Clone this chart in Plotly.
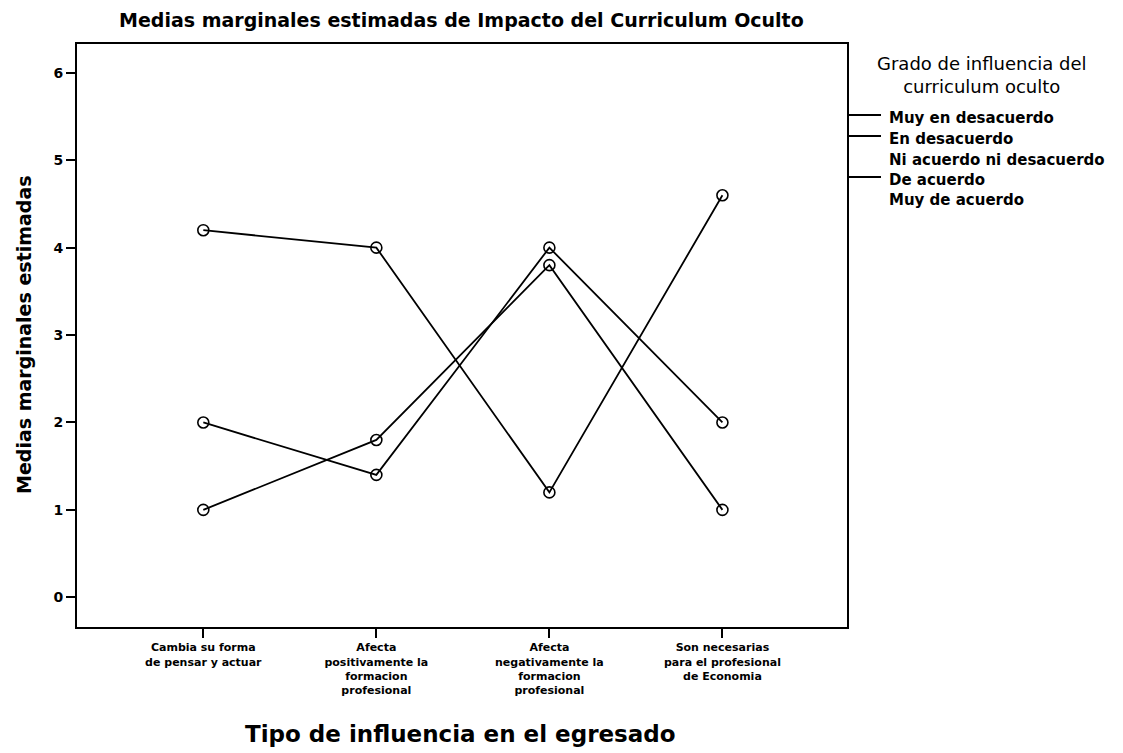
import plotly.graph_objects as go

# Data
categorias = [
    "Cambia su forma<br>de pensar y actuar",
    "Afecta<br>positivamente la<br>formacion<br>profesional",
    "Afecta<br>negativamente la<br>formacion<br>profesional",
    "Son necesarias<br>para el profesional<br>de Economia",
]
serie_a = [4.2, 4.0, 1.2, 4.6]
serie_b = [2.0, 1.4, 4.0, 2.0]
serie_c = [1.0, 1.8, 3.8, 1.0]
y_ticks = [0, 1, 2, 3, 4, 5, 6]

leyenda_titulo = "Grado de influencia del<br>curriculum oculto"
leyenda_items = [
    "Muy en desacuerdo",
    "En desacuerdo",
    "Ni acuerdo ni desacuerdo",
    "De acuerdo",
    "Muy de acuerdo",
]
leyenda_con_linea = [True, True, False, True, False]

FONT = "DejaVu Sans"
OFF = 8  # page body margin
W, H = 1123 - OFF, 753 - OFF
# plot frame in screen pixels
L, R, T, B = 77, 847, 44, 627


def px_x(x):
    return (x - L) / (R - L)


def px_y(y):
    return (B - y) / (B - T)


fig = go.Figure()
for nombre, serie in [("Muy en desacuerdo", serie_a),
                      ("En desacuerdo", serie_b),
                      ("De acuerdo", serie_c)]:
    fig.add_trace(go.Scatter(
        x=categorias, y=serie, name=nombre, mode="lines+markers",
        line=dict(color="black", width=1.8),
        marker=dict(symbol="circle-open", size=11, color="black",
                    line=dict(width=1.6, color="black")),
        showlegend=False,
    ))


def texto(text, x, y, size, bold=True, **kw):
    return dict(text=text, xref="paper", yref="paper", x=px_x(x), y=px_y(y),
                xanchor=kw.pop("xanchor", "center"), yanchor="middle",
                showarrow=False,
                font=dict(family=FONT, size=size, color="black",
                          weight="bold" if bold else "normal"), **kw)


annotations = [
    texto("Medias marginales estimadas de Impacto del Curriculum Oculto", 461, 20, 19),
    texto("Medias marginales estimadas", 24, 335, 19, textangle=-90),
    texto("Tipo de influencia en el egresado", 460, 734, 23),
    texto(leyenda_titulo, 982, 75, 18, bold=False, align="center"),
]

shapes = []
y_items = [118, 139, 160, 180, 200]
for item, linea, yy in zip(leyenda_items, leyenda_con_linea, y_items):
    annotations.append(texto(item, 887, yy, 15, xanchor="left"))
    if linea:
        shapes.append(dict(type="line", xref="paper", yref="paper",
                           x0=1.0, x1=px_x(881), y0=px_y(yy - 3), y1=px_y(yy - 3),
                           line=dict(color="black", width=2)))

fig.update_layout(
    width=W, height=H,
    margin=dict(l=L - OFF, r=W - (R - OFF), t=T - OFF, b=H - (B - OFF)),
    paper_bgcolor="white", plot_bgcolor="white",
    font=dict(family=FONT, color="black"),
    annotations=annotations,
    shapes=shapes,
)
fig.update_xaxes(
    range=[-0.73, 3.72], showgrid=False, zeroline=False,
    showline=True, linecolor="black", linewidth=2, mirror=True,
    ticks="outside", ticklen=9, tickwidth=2, tickcolor="black",
    tickfont=dict(family=FONT, size=11, color="black", weight="bold"),
)
fig.update_yaxes(
    range=[-0.34, 6.33], tickvals=y_ticks, showgrid=False, zeroline=False,
    showline=True, linecolor="black", linewidth=2, mirror=True,
    ticks="outside", ticklen=9, tickwidth=2, tickcolor="black",
    tickfont=dict(family=FONT, size=14, color="black", weight="bold"),
)

fig.write_html("out.html")
